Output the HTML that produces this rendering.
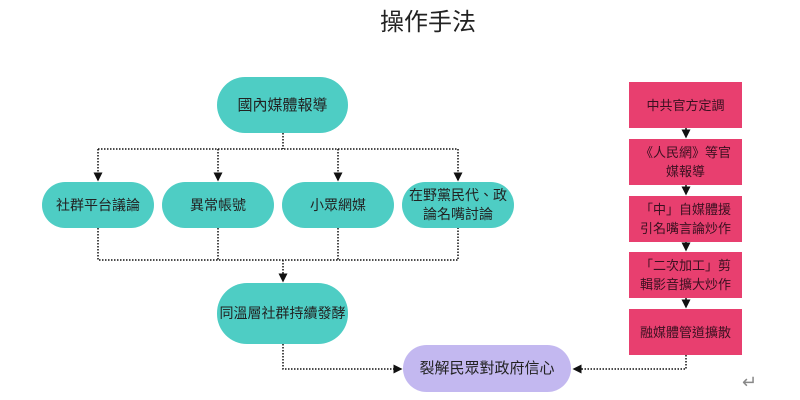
<!DOCTYPE html><html><head><meta charset="utf-8"><style>
body{margin:0;width:800px;height:400px;background:#fff;position:relative;overflow:hidden;font-family:"Liberation Sans","Noto Sans CJK TC",sans-serif}
.n{position:absolute;display:flex;align-items:center;justify-content:center;text-align:center;color:#222;font-size:14px;line-height:19px}
.t{background:#4ecdc4;border-radius:30px}
.p{background:#e83f6f;color:#3a1020;font-size:13px}
</style></head><body>
<div style="position:absolute;left:380px;top:2px;font-size:24px;color:#222">操作手法</div>
<svg width="800" height="400" style="position:absolute;left:0;top:0">
<defs><marker id="a" markerWidth="6" markerHeight="6" refX="5" refY="3" orient="auto"><path d="M0,0L6,3L0,6z" fill="#111"/></marker></defs>
<g stroke="#111" stroke-width="1.5" stroke-dasharray="1.5,1.5" fill="none">
<path d="M283 133V149"/><path d="M98 149H458"/>
<path d="M98 149V180" marker-end="url(#a)"/><path d="M218 149V180" marker-end="url(#a)"/><path d="M338 149V180" marker-end="url(#a)"/><path d="M458 149V180" marker-end="url(#a)"/>
<path d="M98 228V260H458V228"/><path d="M218 228V260"/><path d="M338 228V260"/>
<path d="M283 260V281" marker-end="url(#a)"/>
<path d="M283 344V369H401" marker-end="url(#a)"/>
<path d="M686 355V369H574" marker-end="url(#a)"/>
<path d="M686 128V137" marker-end="url(#a)"/><path d="M686 185V194" marker-end="url(#a)"/><path d="M686 242V250" marker-end="url(#a)"/><path d="M686 298V307" marker-end="url(#a)"/>
</g></svg>
<div class="n t" style="left:217px;top:77px;width:131px;height:56px;font-size:15px">國內媒體報導</div>
<div class="n t" style="left:42px;top:182px;width:112px;height:46px;border-radius:23px">社群平台議論</div>
<div class="n t" style="left:162px;top:182px;width:112px;height:46px;border-radius:23px">異常帳號</div>
<div class="n t" style="left:282px;top:182px;width:112px;height:46px;border-radius:23px">小眾網媒</div>
<div class="n t" style="left:402px;top:182px;width:112px;height:46px;border-radius:23px">在野黨民代、政<br>論名嘴討論</div>
<div class="n t" style="left:217px;top:283px;width:131px;height:61px">同溫層社群持續發酵</div>
<div class="n" style="left:403px;top:345px;width:168px;height:47px;background:#c3b8f0;border-radius:24px;font-size:15px">裂解民眾對政府信心</div>
<div class="n p" style="left:629px;top:82px;width:113px;height:46px">中共官方定調</div>
<div class="n p" style="left:629px;top:139px;width:113px;height:46px">《人民網》等官<br>媒報導</div>
<div class="n p" style="left:629px;top:196px;width:113px;height:46px">「中」自媒體援<br>引名嘴言論炒作</div>
<div class="n p" style="left:629px;top:252px;width:113px;height:46px">「二次加工」剪<br>輯影音擴大炒作</div>
<div class="n p" style="left:629px;top:309px;width:113px;height:46px">融媒體管道擴散</div>
<div style="position:absolute;left:742px;top:372px;font-size:18px;color:#888">↵</div>
</body></html>
